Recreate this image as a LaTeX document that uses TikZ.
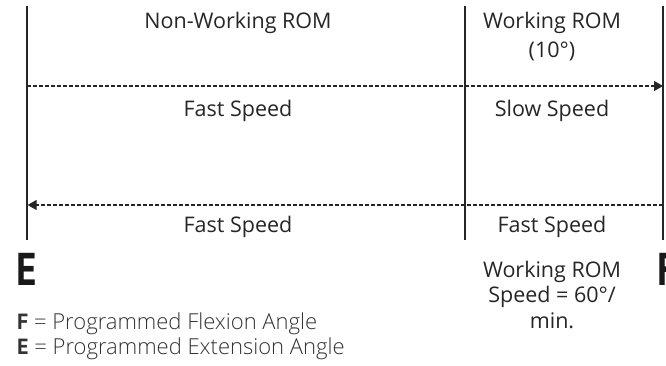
\documentclass[tikz,border=0pt]{standalone}
\usepackage{fontspec}
\setmainfont{Open Sans}
\newfontfamily\bigfont{PT Sans}
\newfontfamily\lightfont{Open Sans Light}
\usetikzlibrary{arrows.meta}
\tikzset{
  vline/.style={line width=1.4pt, black!85},
  flow/.style={line width=1.2pt, dash pattern=on 4pt off 2pt, -{Triangle[length=9pt,width=10pt]}, black!85},
  lbl/.style={anchor=base, font=\fontsize{21.5}{26}\selectfont, text=black!85, inner sep=0pt, align=center},
  big/.style={anchor=base, font=\bigfont\fontsize{46}{50}\selectfont\bfseries, text=black!90, inner sep=0pt, xscale=0.85},
  leg/.style={anchor=base west, font=\lightfont\fontsize{22}{26}\selectfont, text=black!80, inner sep=0pt}
}
\begin{document}
\begin{tikzpicture}[x=1pt,y=-1pt]
\useasboundingbox (0,0) rectangle (666,366);
% vertical markers
\coordinate (L1) at (27,6);   \coordinate (L2) at (27,240);
\coordinate (M1) at (465,6);  \coordinate (M2) at (465,240);
\coordinate (R1) at (663,6);  \coordinate (R2) at (663,240);
\draw[vline] (L1) -- (L2);
\draw[vline] (M1) -- (M2);
\draw[vline] (R1) -- (R2);
% flows
\coordinate (a1) at (27,86);  \coordinate (a2) at (663,86);
\coordinate (b1) at (663,205); \coordinate (b2) at (27.6,205);
\draw[flow] (a1) -- (a2);
\draw[flow] (b1) -- (b2);
% labels
\node[lbl] (nw) at (238,29) {Non-Working ROM};
\node[lbl] (wr) at (552,29) {Working ROM};
\node[lbl] (wd) at (552,58) {(10°)};
\node[lbl] (fs1) at (238,117) {Fast Speed};
\node[lbl] (ss) at (552,117) {Slow Speed};
\node[lbl] (fs2) at (238,232) {Fast Speed};
\node[lbl] (fs3) at (552,232) {Fast Speed};
\node[lbl] (ws1) at (552,277) {Working ROM};
\node[lbl] (ws2) at (552,302) {Speed = 60°/};
\node[lbl] (ws3) at (552,328) {min.};
\node[big] (E) at (27,285) {E};
\node[big, anchor=base west] (F) at (657,285) {F};
% legend
\node[leg] (lf) at (17,329) {{\bigfont\bfseries F} = Programmed Flexion Angle};
\node[leg] (le) at (17,354) {{\bigfont\bfseries E} = Programmed Extension Angle};
\end{tikzpicture}
\end{document}
